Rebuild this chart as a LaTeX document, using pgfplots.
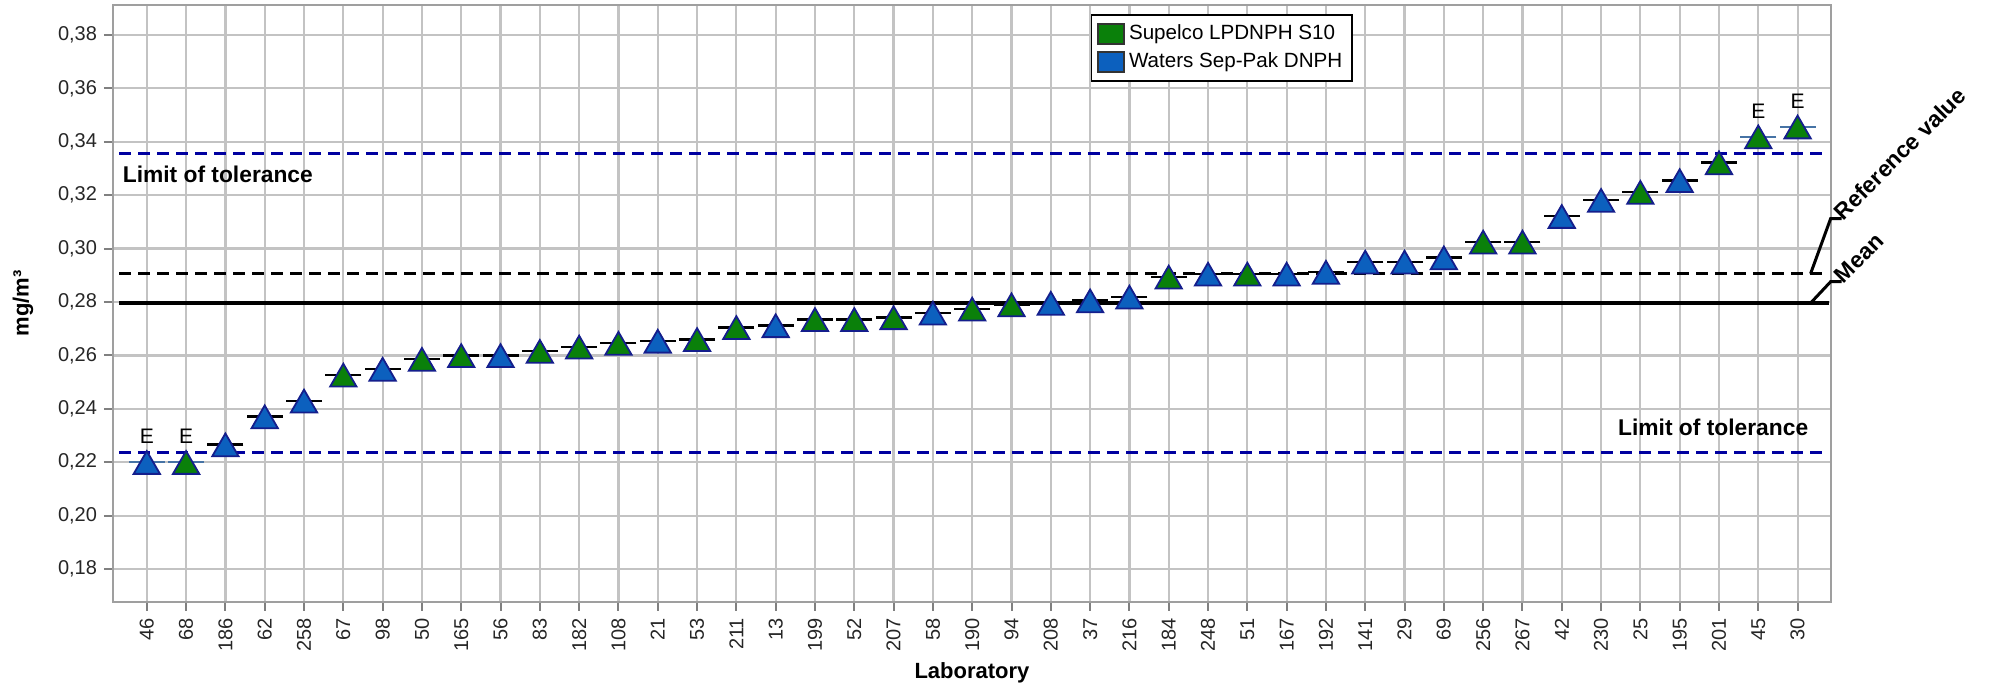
\documentclass[border=0pt]{standalone}
\usepackage{fontspec}
\setmainfont{Liberation Sans}
\usepackage{pgfplots}
\pgfplotsset{compat=1.18}
\usepackage{pgfplotstable}

\definecolor{supgreen}{RGB}{10,128,10}
\definecolor{watblue}{RGB}{12,96,190}
\definecolor{edge}{RGB}{20,30,140}
\definecolor{tolblue}{RGB}{0,0,160}
\definecolor{gridgray}{RGB}{195,195,195}
\definecolor{edash}{RGB}{70,115,165}

% x = rank, grp: 0 = Supelco, 1 = Waters, e = flagged E
\pgfplotstableread{
x y grp e
0 0.2200 1 1
1 0.2200 0 1
2 0.2266 1 0
3 0.2371 1 0
4 0.2430 1 0
5 0.2527 0 0
6 0.2549 1 0
7 0.2586 0 0
8 0.2600 0 0
9 0.2600 1 0
10 0.2616 0 0
11 0.2632 0 0
12 0.2646 0 0
13 0.2654 1 0
14 0.2660 0 0
15 0.2705 0 0
16 0.2712 1 0
17 0.2735 0 0
18 0.2735 0 0
19 0.2742 0 0
20 0.2759 1 0
21 0.2774 0 0
22 0.2790 0 0
23 0.2796 1 0
24 0.2805 1 0
25 0.2819 1 0
26 0.2894 0 0
27 0.2905 1 0
28 0.2905 0 0
29 0.2905 1 0
30 0.2912 1 0
31 0.2950 1 0
32 0.2950 1 0
33 0.2966 1 0
34 0.3025 0 0
35 0.3025 0 0
36 0.3121 1 0
37 0.3181 1 0
38 0.3211 0 0
39 0.3255 1 0
40 0.3322 0 0
41 0.3419 0 1
42 0.3456 0 1
}\labdata

\begin{document}
\begin{tikzpicture}
\begin{axis}[
    scale only axis,
    width=859pt, height=298.5pt,
    xmin=-0.86, xmax=42.85,
    ymin=0.1677, ymax=0.3912,
    clip=false,
    xtick={0,...,42},
    xticklabels={46,68,186,62,258,67,98,50,165,56,83,182,108,21,53,211,13,199,52,207,58,190,94,208,37,216,184,248,51,167,192,141,29,69,256,267,42,230,25,195,201,45,30},
    ytick={0.18,0.20,0.22,0.24,0.26,0.28,0.30,0.32,0.34,0.36,0.38},
    /pgf/number format/assume math mode=true,
    /pgf/number format/fixed,
    /pgf/number format/fixed zerofill,
    /pgf/number format/precision=2,
    /pgf/number format/use comma,
    x tick label style={rotate=90, anchor=east, font=\fontsize{10}{12}\selectfont, text=black!85},
    y tick label style={font=\fontsize{10}{12}\selectfont, text=black!85},
    tick pos=left,
    tick align=outside,
    major tick length=4.5pt,
    tick style={gray, line width=1pt},
    grid=major,
    grid style={gridgray, line width=1.1pt},
    axis line style={gray!75, line width=1.3pt},
    xlabel={Laboratory},
    ylabel={mg/m³},
    xlabel style={at={(axis description cs:0.5,-0.119)}, anchor=center, font=\bfseries\fontsize{11}{13}\selectfont},
    ylabel style={at={(axis description cs:-0.0524,0.5)}, anchor=center, font=\bfseries\fontsize{11}{13}\selectfont},
    legend style={at={(axis description cs:0.569,0.985)}, anchor=north west,
        draw=black, line width=0.9pt, font=\fontsize{10.3}{12}\selectfont,
        row sep=1pt, inner sep=3pt},
    legend cell align=left,
]
% reference lines
\addplot[forget plot, tolblue, line width=1.7pt, dash pattern=on 6pt off 3.5pt] coordinates {(-0.7,0.3355) (42.8,0.3355)};
\addplot[forget plot, tolblue, line width=1.7pt, dash pattern=on 6pt off 3.5pt] coordinates {(-0.7,0.2236) (42.8,0.2236)};
\addplot[forget plot, black, line width=1.7pt, dash pattern=on 6pt off 3.5pt] coordinates {(-0.7,0.2906) (42.8,0.2906)};
\addplot[forget plot, black, line width=2pt] coordinates {(-0.7,0.2796) (42.8,0.2796)};

% value dashes
\addplot[forget plot, only marks, mark=-, mark size=9pt, mark options={black, line width=1.2pt},
    restrict expr to domain={\thisrow{e}}{0:0}] table[x=x, y=y] {\labdata};
\addplot[forget plot, only marks, mark=-, mark size=9pt, mark options={edash, line width=1pt},
    restrict expr to domain={\thisrow{e}}{1:1},
    nodes near coords={E}, nodes near coords style={anchor=south, yshift=5.5pt, text=black, font=\fontsize{10.5}{12}\selectfont}] table[x=x, y=y] {\labdata};

% triangles
\addplot[forget plot, only marks, mark=triangle*, mark size=7.6pt,
    mark options={fill=supgreen, draw=edge, line width=0.9pt, yshift=-2pt},
    restrict expr to domain={\thisrow{grp}}{0:0}] table[x=x, y=y] {\labdata};
\addplot[forget plot, only marks, mark=triangle*, mark size=7.6pt,
    mark options={fill=watblue, draw=edge, line width=0.9pt, yshift=-2pt},
    restrict expr to domain={\thisrow{grp}}{1:1}] table[x=x, y=y] {\labdata};

\addlegendimage{legend image code/.code={\draw[fill=supgreen, draw=black!80, line width=0.8pt] (0pt,-5pt) rectangle (13pt,5pt);}}
\addlegendentry{Supelco LPDNPH S10}
\addlegendimage{legend image code/.code={\draw[fill=watblue, draw=black!80, line width=0.8pt] (0pt,-5pt) rectangle (13pt,5pt);}}
\addlegendentry{Waters Sep-Pak DNPH}

% annotations
\node[anchor=west, inner sep=0pt, font=\bfseries\fontsize{11.4}{13}\selectfont] at (axis cs:-0.62,0.3277) {Limit of tolerance};
\node[anchor=east, inner sep=0pt, font=\bfseries\fontsize{11.4}{13}\selectfont] at (axis cs:42.28,0.2332) {Limit of tolerance};
\draw[black, line width=1.5pt] (axis cs:42.33,0.2906) -- (axis cs:42.84,0.3112) -- (axis cs:43.12,0.3112);
\draw[black, line width=1.5pt] (axis cs:42.33,0.2796) -- (axis cs:42.84,0.2876) -- (axis cs:43.12,0.2876);
\node[anchor=south west, rotate=45, inner sep=1pt, font=\bfseries\fontsize{11.4}{13}\selectfont] at (axis cs:43.18,0.3090) {Reference value};
\node[anchor=south west, rotate=45, inner sep=1pt, font=\bfseries\fontsize{11.4}{13}\selectfont] at (axis cs:43.18,0.2854) {Mean};
\end{axis}
\pgfresetboundingbox
\path[use as bounding box] (-56.5pt,-43.5pt) rectangle (943pt,301pt);
\end{tikzpicture}
\end{document}
